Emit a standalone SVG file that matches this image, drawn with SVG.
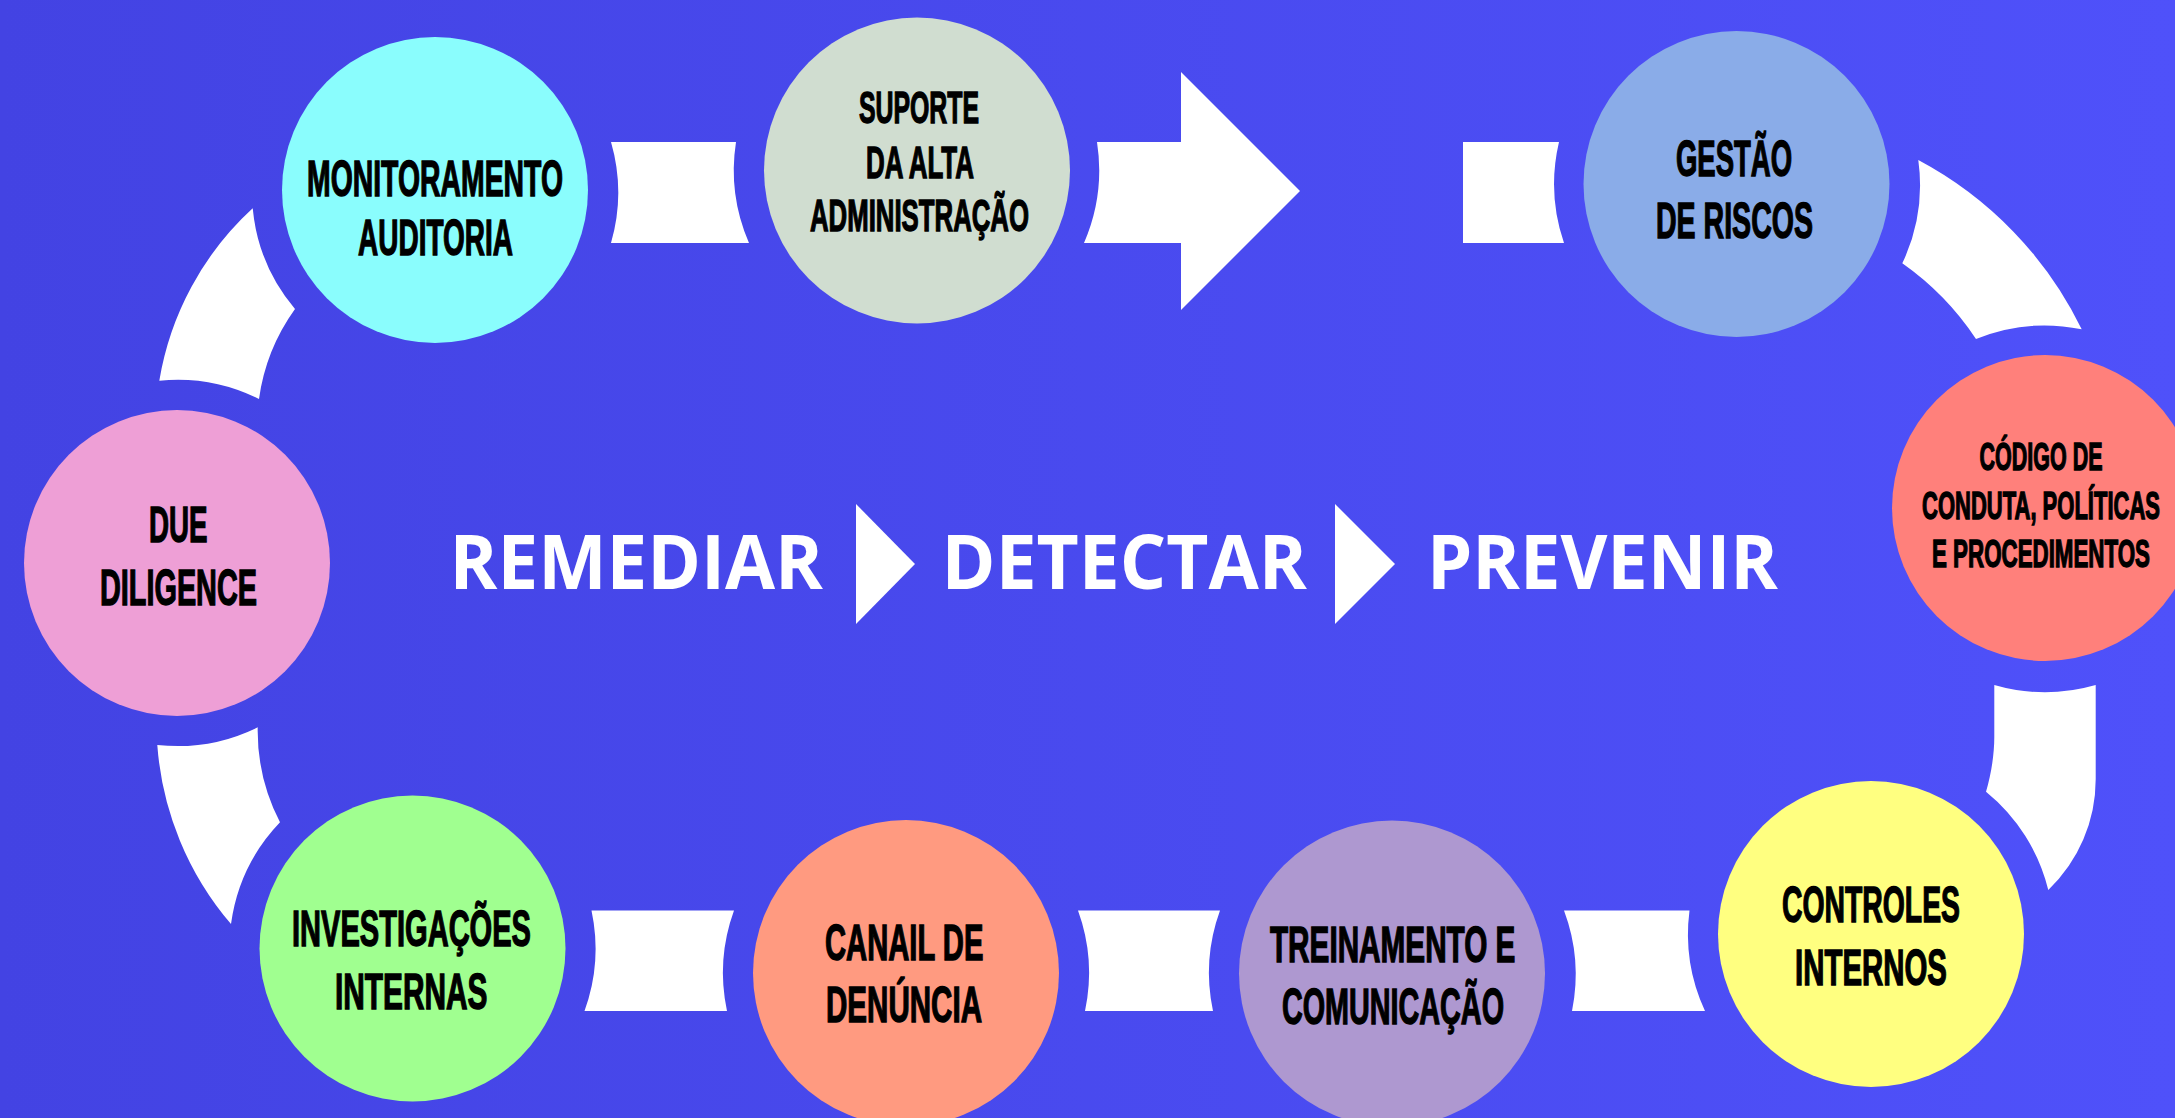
<svg xmlns="http://www.w3.org/2000/svg" width="2175" height="1118" viewBox="0 0 2175 1118">
<defs>
<linearGradient id="bg" x1="0" y1="0" x2="2175" y2="0" gradientUnits="userSpaceOnUse">
<stop offset="0" stop-color="#4343E3"/>
<stop offset="1" stop-color="#4F51FA"/>
</linearGradient>
</defs>
<style>
.band{fill:#FFFFFF}
.node{stroke:none}
.lbl{font-family:"Liberation Sans Narrow","Liberation Sans",Arial,sans-serif;font-weight:700;font-size:50px;fill:#000;stroke:#000;stroke-width:1.4px;text-anchor:middle}
.sm{font-size:38px}
.md{font-size:45px}
.big{font-family:"Open Sans","Liberation Sans",sans-serif;font-weight:700;font-size:76px;fill:#FFFFFF;text-anchor:middle}
</style>
<rect x="0" y="0" width="2175" height="1118" fill="url(#bg)"/>
<g id="connectors">
<path class="band" d="M611,142 L736,142 A183 183 0 0 0 749,243 L611,243 A182 182 0 0 0 611,142 Z"/>
<path class="band" d="M1097,142 L1181,142 L1181,72 L1300,191 L1181,310 L1181,243 L1084,243 A183 183 0 0 0 1097,142 Z"/>
<path class="band" d="M1463,142 L1559,142 A183 183 0 0 0 1564,243 L1463,243 Z"/>
<path class="band" d="M1918.3,160 A380 380 0 0 1 2081.7,329.3 A183 183 0 0 0 1976,339 A285 285 0 0 0 1902.3,263.3 A183 183 0 0 0 1918.3,160 Z"/>
<path class="band" d="M1994.3,685 A183 183 0 0 0 2095.7,685 L2095.7,779 A153 153 0 0 1 2048.3,890 A183 183 0 0 0 1986,791.7 C1991,775 1994.3,755 1994.3,737 Z"/>
<path class="band" d="M1564,910.5 L1689.5,910.5 A183 183 0 0 0 1705,1011 L1572,1011 A183 183 0 0 0 1564,910.5 Z"/>
<path class="band" d="M1078,910.5 L1220,910.5 A183 183 0 0 0 1213,1011 L1085,1011 A183 183 0 0 0 1078,910.5 Z"/>
<path class="band" d="M591.5,910.5 L734,910.5 A183 183 0 0 0 727,1011 L584.5,1011 A183 183 0 0 0 591.5,910.5 Z"/>
<path class="band" d="M157.3,745 A183 183 0 0 0 257.7,727.3 A200 200 0 0 0 280,822.3 A183 183 0 0 0 231,924 A310 310 0 0 1 157.3,745 Z"/>
<path class="band" d="M252.7,208.3 A183 183 0 0 0 295,309 A201 201 0 0 0 259,399 A183 183 0 0 0 159.3,380.7 A300 300 0 0 1 252.7,208.3 Z"/>
</g>
<g id="center-title">
<text class="big" x="636.3" y="589" textLength="373.4" lengthAdjust="spacingAndGlyphs">REMEDIAR</text>
<polygon points="856,504 915,564 856,624" fill="#FFFFFF"/>
<text class="big" x="1124.3" y="589" textLength="365.4" lengthAdjust="spacingAndGlyphs">DETECTAR</text>
<polygon points="1335,504 1395,564 1335,624" fill="#FFFFFF"/>
<text class="big" x="1602.5" y="589" textLength="351" lengthAdjust="spacingAndGlyphs">PREVENIR</text>
</g>
<g id="node-monitoramento">
<circle class="node" cx="435" cy="190" r="153" fill="#8AFDFD"/>
<text class="lbl" x="435" y="196.4" textLength="256" lengthAdjust="spacingAndGlyphs">MONITORAMENTO</text>
<text class="lbl" x="435.5" y="254.6" textLength="155" lengthAdjust="spacingAndGlyphs">AUDITORIA</text>
</g>
<g id="node-suporte">
<circle class="node" cx="917" cy="170.5" r="153" fill="#D0DDD0"/>
<text class="lbl md" x="919" y="123" textLength="120" lengthAdjust="spacingAndGlyphs">SUPORTE</text>
<text class="lbl md" x="920" y="177.5" textLength="108" lengthAdjust="spacingAndGlyphs">DA ALTA</text>
<text class="lbl md" x="919.5" y="231" textLength="219" lengthAdjust="spacingAndGlyphs">ADMINISTRAÇÃO</text>
</g>
<g id="node-gestao">
<circle class="node" cx="1736.5" cy="184" r="153" fill="#8AACE8"/>
<text class="lbl" x="1734" y="175.7" textLength="116" lengthAdjust="spacingAndGlyphs">GESTÃO</text>
<text class="lbl" x="1734.5" y="237.5" textLength="157" lengthAdjust="spacingAndGlyphs">DE RISCOS</text>
</g>
<g id="node-codigo">
<circle class="node" cx="2045" cy="508" r="153" fill="#FF807B"/>
<text class="lbl sm" x="2041" y="470" textLength="123" lengthAdjust="spacingAndGlyphs">CÓDIGO DE</text>
<text class="lbl sm" x="2041" y="519" textLength="238" lengthAdjust="spacingAndGlyphs">CONDUTA, POLÍTICAS</text>
<text class="lbl sm" x="2041" y="567" textLength="218" lengthAdjust="spacingAndGlyphs">E PROCEDIMENTOS</text>
</g>
<g id="node-controles">
<circle class="node" cx="1871" cy="934" r="153" fill="#FFFF80"/>
<text class="lbl" x="1871" y="922" textLength="178" lengthAdjust="spacingAndGlyphs">CONTROLES</text>
<text class="lbl" x="1871" y="985" textLength="152" lengthAdjust="spacingAndGlyphs">INTERNOS</text>
</g>
<g id="node-treinamento">
<circle class="node" cx="1392" cy="973.5" r="153" fill="#AE98D0"/>
<text class="lbl" x="1392.7" y="962" textLength="245.5" lengthAdjust="spacingAndGlyphs">TREINAMENTO E</text>
<text class="lbl" x="1393" y="1024" textLength="222" lengthAdjust="spacingAndGlyphs">COMUNICAÇÃO</text>
</g>
<g id="node-canal">
<circle class="node" cx="906" cy="973" r="153" fill="#FF9A80"/>
<text class="lbl" x="904.2" y="960" textLength="158.5" lengthAdjust="spacingAndGlyphs">CANAIL DE</text>
<text class="lbl" x="904" y="1022" textLength="156" lengthAdjust="spacingAndGlyphs">DENÚNCIA</text>
</g>
<g id="node-investigacoes">
<circle class="node" cx="412.5" cy="948.5" r="153" fill="#A0FF90"/>
<text class="lbl" x="411.5" y="945.5" textLength="239" lengthAdjust="spacingAndGlyphs">INVESTIGAÇÕES</text>
<text class="lbl" x="411.2" y="1009" textLength="152.5" lengthAdjust="spacingAndGlyphs">INTERNAS</text>
</g>
<g id="node-due">
<circle class="node" cx="177" cy="563" r="153" fill="#EE9FD6"/>
<text class="lbl" x="178.3" y="542" textLength="58.6" lengthAdjust="spacingAndGlyphs">DUE</text>
<text class="lbl" x="178.5" y="605" textLength="157" lengthAdjust="spacingAndGlyphs">DILIGENCE</text>
</g>
</svg>
